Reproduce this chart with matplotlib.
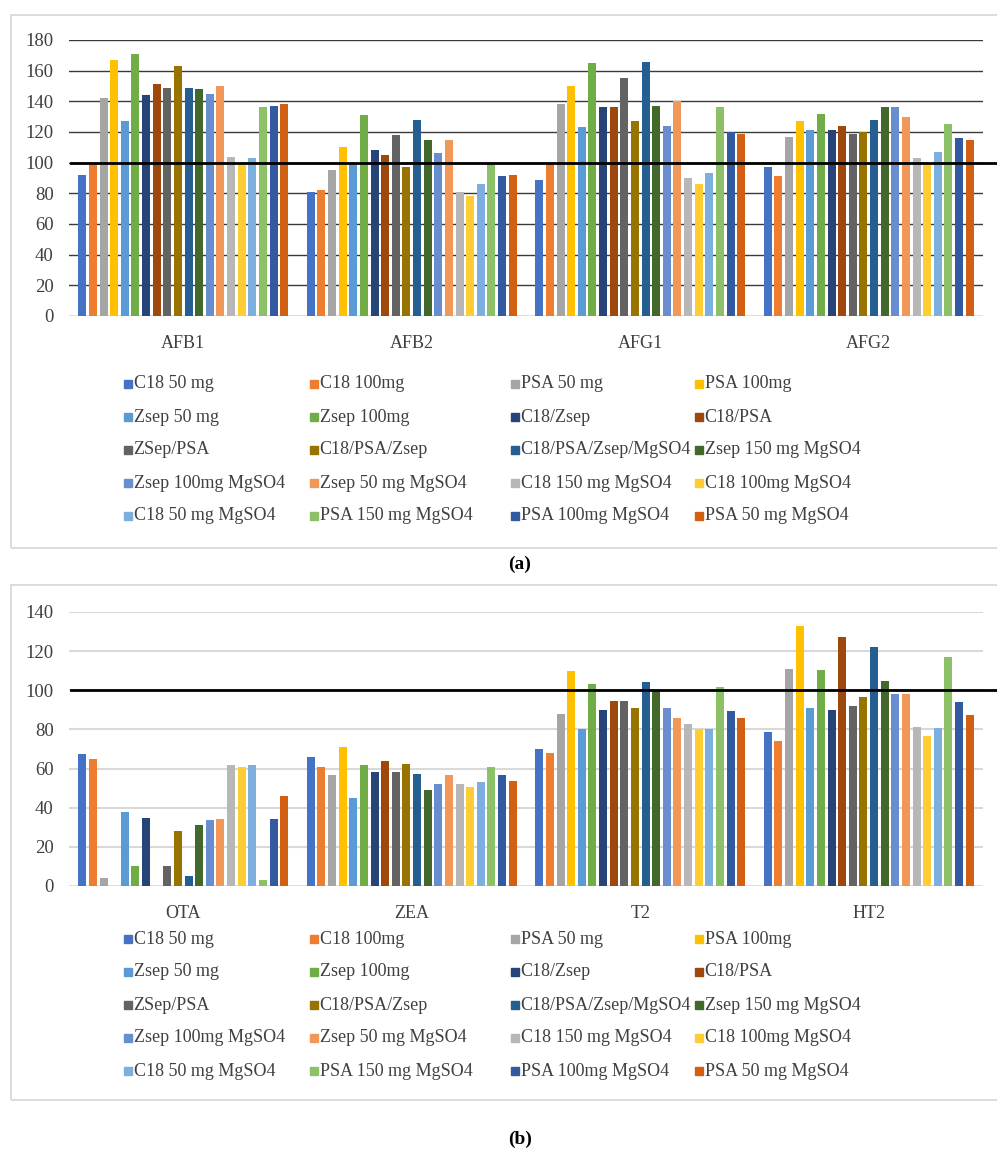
import numpy as np
import matplotlib
matplotlib.use("Agg")
import matplotlib.pyplot as plt
from matplotlib.patches import Rectangle

# ---- data -------------------------------------------------------------
series = [
    "C18 50 mg", "C18 100mg", "PSA 50 mg", "PSA 100mg",
    "Zsep 50 mg", "Zsep 100mg", "C18/Zsep", "C18/PSA",
    "ZSep/PSA", "C18/PSA/Zsep", "C18/PSA/Zsep/MgSO4", "Zsep 150 mg MgSO4",
    "Zsep 100mg MgSO4", "Zsep 50 mg MgSO4", "C18 150 mg MgSO4", "C18 100mg MgSO4",
    "C18 50 mg MgSO4", "PSA 150 mg MgSO4", "PSA 100mg MgSO4", "PSA 50 mg MgSO4",
]
colors = [
    "#4472C4", "#ED7D31", "#A5A5A5", "#FFC000",
    "#5B9BD5", "#70AD47", "#264478", "#9E480E",
    "#636363", "#997300", "#255E91", "#43682B",
    "#698ED0", "#F1975A", "#B7B7B7", "#FFCD33",
    "#7CAFDD", "#8CC168", "#335AA1", "#D26012",
]

groups_a = ["AFB1", "AFB2", "AFG1", "AFG2"]
afb1 = [92, 99, 142, 167, 127, 171, 144, 151, 149, 163, 149, 148, 145, 150, 104, 100, 103, 136, 137, 138]
afb2 = [81, 82, 95, 110, 99, 131, 108, 105, 118, 97, 128, 115, 106, 115, 81, 78, 86, 99, 91, 92]
afg1 = [89, 99, 138, 150, 123, 165, 136, 136, 155, 127, 165.5, 137, 124, 140, 90, 86, 93, 136, 120, 119]
afg2 = [97, 91, 117, 127, 121, 132, 121, 124, 119, 120, 128, 136, 136, 130, 103, 99, 107, 125, 116, 115]

groups_b = ["OTA", "ZEA", "T2", "HT2"]
ota = [67.5, 65, 4, 0, 38, 10, 35, 0, 10, 28, 5, 31, 33.5, 34, 62, 61, 62, 3, 34, 46]
zea = [66, 61, 56.5, 71, 45, 62, 58.5, 64, 58.5, 62.5, 57, 49, 52, 56.5, 52, 50.5, 53, 61, 56.5, 53.5]
t2 = [70, 68, 88, 110, 80, 103, 90, 94.5, 94.5, 91, 104, 100, 91, 86, 83, 80, 80, 101.5, 89.5, 86]
ht2 = [78.5, 74, 111, 133, 91, 110.5, 90, 127, 92, 96.5, 122, 104.5, 98, 98, 81, 76.5, 80.5, 117, 94, 87.5]

yticks_a = [0, 20, 40, 60, 80, 100, 120, 140, 160, 180]
yticks_b = [0, 20, 40, 60, 80, 100, 120, 140]
reference = 100

# ---- layout helpers ---------------------------------------------------
W, H = 997, 1155
fig = plt.figure(figsize=(W / 100, H / 100), dpi=100)
fig.patch.set_facecolor("white")

SERIF = ["Liberation Serif", "DejaVu Serif"]
TXT = "#404040"


def fx(x):
    return x / W


def fy(y):
    return 1 - y / H


def draw_panel(y_top, y_zero, ymax, ticks, groups, data, grid_color, grid_lw):
    left, right = 69, 983
    ax = fig.add_axes([fx(left), fy(y_zero), (right - left) / W, (y_zero - y_top) / H])
    ax.set_xlim(-0.5, len(groups) - 0.5)
    ax.set_ylim(0, ymax)
    vals = np.array(data).T  # series x group
    n = len(series)
    slot = 0.0465
    bw = 0.035
    x = np.arange(len(groups))
    for k in range(n):
        ax.bar(x + (k - (n - 1) / 2) * slot, vals[k], width=bw, color=colors[k],
               zorder=2, linewidth=0)
    ax.set_yticks(ticks)
    for t in ticks[1:]:
        ax.axhline(t, color=grid_color, lw=grid_lw, zorder=1)
    ax.axhline(0, color="#d9d9d9", lw=1.2, zorder=1)
    # reference line at 100 %, running out to the figure edge
    ax.axhline(reference, xmin=0.002, xmax=1.03, color="black", lw=2.0,
               zorder=3, clip_on=False)
    for s in ax.spines.values():
        s.set_visible(False)
    ax.set_xticks(x)
    ax.set_xticklabels(groups, fontsize=13, family=SERIF, color=TXT)
    ax.tick_params(axis="x", length=0, pad=14)
    ax.tick_params(axis="y", length=0, pad=11, labelsize=13.5, labelcolor=TXT)
    for lab in ax.get_yticklabels():
        lab.set_family(SERIF)
    return ax


def draw_legend(row_y):
    cols = [124, 310, 511, 695]
    sq = 7.5
    for i, name in enumerate(series):
        r, c = divmod(i, 4)
        x0, y0 = cols[c], row_y[r]
        fig.patches.append(Rectangle((fx(x0), fy(y0 + sq / 2)), sq / W, sq / H,
                                     transform=fig.transFigure, color=colors[i]))
        fig.text(fx(x0 + sq + 2), fy(y0), name, fontsize=13, family=SERIF,
                 color=TXT, va="center", ha="left")


def draw_box(y0, y1):
    fig.patches.append(Rectangle((fx(11), fy(y1)), (1005 - 11) / W, (y1 - y0) / H,
                                 transform=fig.transFigure, fill=False,
                                 edgecolor="#d9d9d9", lw=1.3))


# ---- panel (a) --------------------------------------------------------
draw_box(15, 548)
draw_panel(40, 316, 180, yticks_a, groups_a, [afb1, afb2, afg1, afg2], "#3a3a3a", 1.0)
draw_legend([384, 417, 450, 483, 516])
fig.text(fx(520), fy(564), "(a)", fontsize=14, fontweight="bold", family=SERIF,
         ha="center", va="center", color="black")

# ---- panel (b) --------------------------------------------------------
draw_box(585, 1100)
draw_panel(612, 886, 140, yticks_b, groups_b, [ota, zea, t2, ht2], "#d9d9d9", 1.5)
draw_legend([939, 972, 1005, 1038, 1071])
fig.text(fx(520), fy(1139), "(b)", fontsize=14, fontweight="bold", family=SERIF,
         ha="center", va="center", color="black")

fig.savefig("out.png", dpi=100, facecolor="white")
